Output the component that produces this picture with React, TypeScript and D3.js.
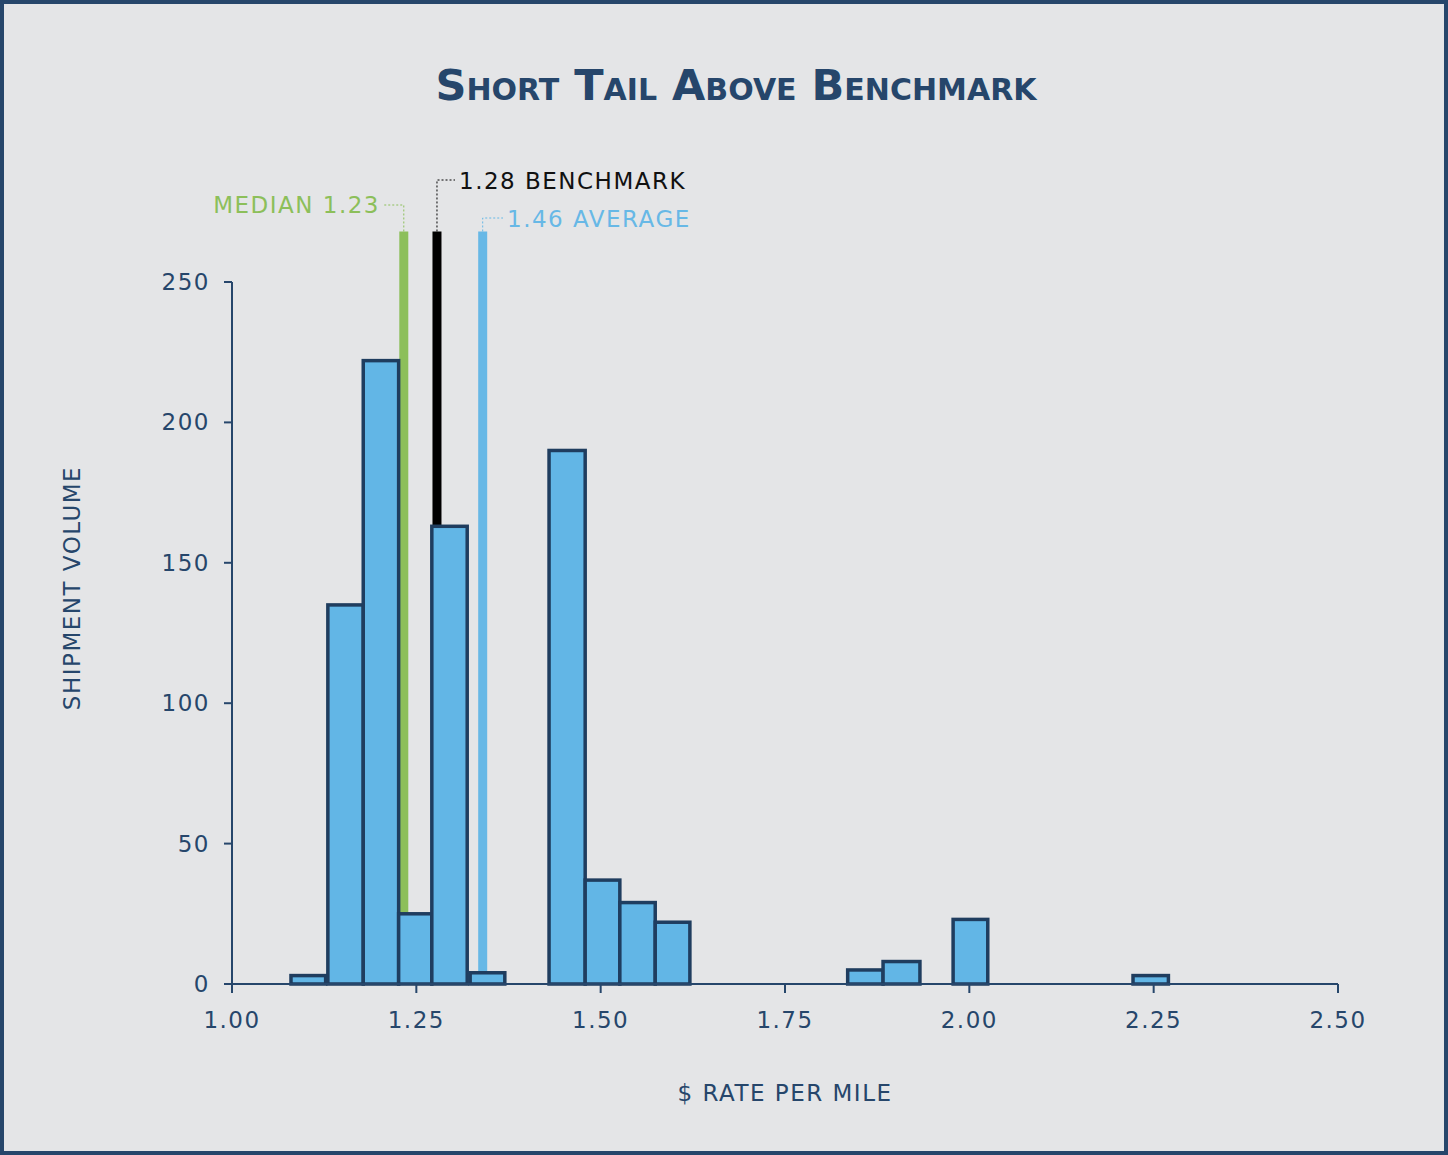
import * as d3 from "d3";
import React from "react";

// histogram bins: [start, end]
const binStart = [1.08, 1.13, 1.178, 1.226, 1.271, 1.323, 1.43, 1.479, 1.526, 1.574, 1.835, 1.883, 1.978, 2.222];
const binEnd = [1.127, 1.178, 1.226, 1.271, 1.319, 1.37, 1.479, 1.526, 1.574, 1.621, 1.883, 1.933, 2.025, 2.27];
const counts = [3, 135, 222, 25, 163, 4, 190, 37, 29, 22, 5, 8, 23, 3];
const xTicks = [1.0, 1.25, 1.5, 1.75, 2.0, 2.25, 2.5];
const yTicks = [0, 50, 100, 150, 200, 250];

// marker lines: position, bottom value, label
const markers = [
  { name: "median", x: 1.233, bottom: 25, color: "#8cbf5a", label: "MEDIAN 1.23" },
  { name: "benchmark", x: 1.278, bottom: 163, color: "#000000", label: "1.28 BENCHMARK" },
  { name: "average", x: 1.34, bottom: 4, color: "#67b8e6", label: "1.46 AVERAGE" },
];

const W = 1448;
const H = 1155;
const navy = "#26466b";
const font = "'DejaVu Sans', sans-serif";

export default function App() {
  const x = d3.scaleLinear().domain([1, 2.5]).range([232, 1338]);
  const y = d3.scaleLinear().domain([0, 250]).range([984, 282]);
  const top = y(268);

  return (
    <svg width={W} height={H} style={{ display: "block", position: "absolute", left: 0, top: 0 }}>
      <rect x={2} y={2} width={W - 4} height={H - 4} fill="#e4e5e7" stroke={navy} strokeWidth={4} />
      <text x={736} y={100} textAnchor="middle" fontFamily={font} fontWeight="bold" fontSize={43}
        fill={navy} style={{ fontVariant: "small-caps" }}>
        Short Tail Above Benchmark
      </text>

      {markers.map((m) => (
        <line key={m.name} x1={x(m.x)} x2={x(m.x)} y1={top} y2={y(m.bottom)} stroke={m.color} strokeWidth={9} />
      ))}

      {/* labels with dotted leaders */}
      <g fontFamily={font} fontSize={23} letterSpacing={1.5}>
        <path d={`M${x(1.233)},${top} V205 H384`} fill="none" stroke="#8cbf5a" strokeDasharray="2,2" />
        <text x={380} y={213} textAnchor="end" fill="#8cbf5a">{markers[0].label}</text>
        <path d={`M${x(1.278)},${top} V180 H455`} fill="none" stroke="#000" strokeDasharray="2,2" />
        <text x={459} y={189} fill="#111">{markers[1].label}</text>
        <path d={`M${x(1.34)},${top} V218 H503`} fill="none" stroke="#67b8e6" strokeDasharray="2,2" />
        <text x={507} y={227} fill="#67b8e6">{markers[2].label}</text>
      </g>

      {counts.map((c, i) => (
        <rect key={i} x={x(binStart[i])} y={y(c)} width={x(binEnd[i]) - x(binStart[i])} height={y(0) - y(c)}
          fill="#62b6e6" stroke="#1f3d5f" strokeWidth={3.5} />
      ))}

      {/* axes */}
      <line x1={232} x2={232} y1={282} y2={984} stroke={navy} strokeWidth={2} />
      <line x1={232} x2={1338} y1={984} y2={984} stroke={navy} strokeWidth={2} />
      <g fontFamily={font} fontSize={23} fill={navy} letterSpacing={1.5}>
        {yTicks.map((t) => (
          <g key={t}>
            <line x1={224} x2={232} y1={y(t)} y2={y(t)} stroke={navy} strokeWidth={2} />
            <text x={210} y={y(t) + 8} textAnchor="end">{t}</text>
          </g>
        ))}
        {xTicks.map((t) => (
          <g key={t}>
            <line x1={x(t)} x2={x(t)} y1={984} y2={993} stroke={navy} strokeWidth={2} />
            <text x={x(t)} y={1028} textAnchor="middle">{t.toFixed(2)}</text>
          </g>
        ))}
        <text x={785} y={1101} textAnchor="middle">$ RATE PER MILE</text>
        <text transform="translate(80,588) rotate(-90)" textAnchor="middle">SHIPMENT  VOLUME</text>
      </g>
    </svg>
  );
}
